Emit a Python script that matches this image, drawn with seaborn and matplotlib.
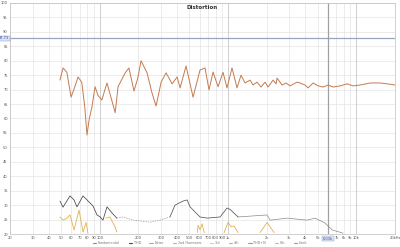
import numpy as np
import pandas as pd
import matplotlib
matplotlib.use("Agg")
import matplotlib.pyplot as plt
import seaborn as sns
from matplotlib.lines import Line2D

# ---------------- data ----------------
fund_freq = [49, 51.8, 55.5, 59.8, 63.5, 67.8, 72.5, 76.5, 79.6, 83, 87, 92, 97, 104, 109, 114,
             123, 132, 139, 158, 169, 185, 198, 210, 234, 255, 275, 301, 329, 367, 401, 423,
             471, 534, 605, 662, 711, 764, 836, 914, 982, 1074, 1175, 1262, 1358, 1486, 1566,
             1684, 1808, 1944, 2050, 2244, 2366, 2410, 2636, 2832, 3041, 3452, 3640, 3980,
             4207, 4600, 5035, 5508, 6025, 6590, 7465, 8470, 9424, 10700, 12800, 15300, 17400, 20000]
fund_db = [73.3, 77.5, 76.0, 67.4, 70.5, 74.4, 72.5, 64.0, 54.3, 60.0, 64.0, 71.0, 68.0, 66.4, 69.5, 72.3,
           67.0, 62.0, 71.0, 75.8, 77.5, 69.5, 74.0, 80.0, 75.8, 69.0, 64.3, 72.6, 75.8, 72.0, 74.4, 70.6,
           78.2, 67.4, 76.8, 77.5, 69.9, 76.1, 71.0, 76.0, 70.6, 77.5, 70.6, 75.0, 72.3, 73.3, 71.6,
           72.6, 70.9, 72.6, 70.9, 73.3, 72.0, 74.0, 71.6, 72.3, 71.3, 72.6, 72.3, 71.6,
           70.6, 72.3, 71.3, 70.9, 71.6, 70.9, 71.3, 72.0, 71.3, 71.6, 72.3, 72.3, 72.0, 71.6]

# THD: dark where clearly above noise, lighter where it merges with the noise floor
thd_freq = [49, 51.8, 58.7, 63.1, 66.5, 74.1, 79.6, 88.7, 95.3, 101, 106, 114, 124.7, 136]
thd_db = [31.4, 29.3, 33.2, 31.8, 29.4, 33.2, 31.8, 29.7, 26.6, 25.9, 24.8, 29.4, 27.3, 25.5]
thd2_freq = [353, 386, 446, 480, 506, 605, 689, 867, 982, 1038, 1197]
thd2_db = [25.9, 30.0, 31.4, 31.8, 29.4, 25.9, 25.5, 25.9, 29.0, 28.5, 25.9]
noise_freq = [136, 152, 182, 247, 295, 353]
noise_db = [25.5, 25.9, 24.8, 24.1, 24.8, 25.9]
noise2_freq = [1197, 2014, 2124, 2885, 4130, 4768, 5700, 6470, 7880]
noise2_db = [25.9, 26.6, 24.8, 25.5, 24.8, 25.5, 23.8, 21.4, 20.3]

h2_freq = [49, 51.8, 55.6, 58.7, 63.1, 69, 74.1, 78.3, 81,
           112, 120, 132, 136,
           577, 584, 605, 628, 652,
           931, 1000, 1056, 1115, 1197,
           1777, 1908, 2014, 2124, 2284]
h2_db = [25.9, 24.8, 25.5, 26.6, 21.4, 28.3, 20.7, 24.0, 20.3,
         25.5, 25.9, 22.4, 20.7,
         20.5, 23.0, 21.5, 23.5, 20.5,
         20.5, 24.0, 22.5, 22.8, 20.5,
         20.5, 22.5, 24.0, 22.5, 20.5]
h2_seg = [0] * 9 + [1] * 4 + [2] * 5 + [3] * 5 + [4] * 5

y_ticks = list(range(20, 101, 5))
x_ticks = [20, 30, 40, 50, 60, 70, 80, 90, 100, 200, 300, 400, 500, 600, 700, 800, 900,
           1000, 2000, 3000, 4000, 5000, 6000, 7000, 8000, 9000, 10000, 20000]
x_tick_labels = ["20", "30", "40", "50", "60", "70", "80", "90", "100", "200", "300", "400", "500",
                 "600", "700", "800", "900", "1k", "2k", "3k", "4k", "5k", "", "7k", "8k", "9k",
                 "10k", "20kHz"]
legend_labels = ["Fundamental", "THD", "Noise", "2nd Harmonic", "3rd", "4th", "THD+N", "5th", "Limit"]
legend_colors = ["#c47a50", "#444444", "#aaaaaa", "#e3b04b", "#e9cf7a", "#d9a96a", "#9a9a9a", "#bbbbbb", "#999999"]
cursor_db = 87.73
cursor_freq = 6025

# ---------------- plotting ----------------
sns.set_style("white")
plt.rcParams['font.family'] = ['DejaVu Sans']

fig = plt.figure(figsize=(4.0, 2.47), dpi=100)
ax = fig.add_axes([10 / 400, 1 - 234 / 247, 385 / 400, 231 / 247])

df_f = pd.DataFrame({"f": fund_freq, "db": fund_db})
df_t = pd.DataFrame({"f": thd_freq, "db": thd_db})
df_t2 = pd.DataFrame({"f": thd2_freq, "db": thd2_db})
df_n = pd.DataFrame({"f": noise_freq, "db": noise_db})
df_n2 = pd.DataFrame({"f": noise2_freq, "db": noise2_db})
df_h = pd.DataFrame({"f": h2_freq, "db": h2_db, "seg": h2_seg})

ax.set_xscale("log")
ax.set_xlim(20, 20000)
ax.set_ylim(20, 100)

# grid
for v in y_ticks:
    ax.axhline(v, color="#e4e4e4", lw=0.5, zorder=0)
for v in x_ticks:
    dec = v in (100, 1000, 10000)
    ax.axvline(v, color="#c8c8c8" if dec else "#e4e4e4", lw=0.6 if dec else 0.5, zorder=0)

sns.lineplot(data=df_h, x="f", y="db", units="seg", ax=ax, color="#e3b04b", lw=0.6,
             sort=False, estimator=None)
sns.lineplot(data=df_n, x="f", y="db", ax=ax, color="#9a9a9a", lw=0.5, ls=(0, (2, 1.5)),
             sort=False, estimator=None)
sns.lineplot(data=df_n2, x="f", y="db", ax=ax, color="#8a8a8a", lw=0.5,
             sort=False, estimator=None)
sns.lineplot(data=df_t, x="f", y="db", ax=ax, color="#444444", lw=0.55, sort=False, estimator=None)
sns.lineplot(data=df_t2, x="f", y="db", ax=ax, color="#555555", lw=0.55, sort=False, estimator=None)
sns.lineplot(data=df_f, x="f", y="db", ax=ax, color="#c47a50", lw=0.7, sort=False, estimator=None)

# cursors
ax.axhline(cursor_db, color="#9aa5c0", lw=0.9, zorder=1)
ax.axvline(cursor_freq, color="#a0a0a0", lw=0.9, zorder=1)

ax.set_xticks(x_ticks)
ax.set_xticklabels(x_tick_labels)
ax.set_yticks(y_ticks)
ax.set_yticklabels([str(v) for v in y_ticks])
ax.minorticks_off()
ax.tick_params(axis="both", length=0, labelsize=2.6, colors="#555555", pad=1.5)
ax.set_xlabel("")
ax.set_ylabel("")
for s in ax.spines.values():
    s.set_color("#bdbdbd")
    s.set_linewidth(0.5)

# cursor value boxes
ax.text(-0.002, cursor_db, f"{cursor_db:.2f}", transform=ax.get_yaxis_transform(),
        ha="right", va="center", fontsize=2.6, color="#3344aa",
        bbox=dict(boxstyle="square,pad=0.2", fc="#dde3f5", ec="#8f9bb8", lw=0.3))
ax.text(cursor_freq, -0.012, "6.03k", transform=ax.get_xaxis_transform(),
        ha="center", va="top", fontsize=2.6, color="#3344aa",
        bbox=dict(boxstyle="square,pad=0.2", fc="#dde3f5", ec="#8f9bb8", lw=0.3))

ax.text(0.5, 0.992, "Distortion", transform=ax.transAxes, ha="center", va="top",
        fontsize=4, fontweight="bold", color="#333333")

handles = [Line2D([0], [0], color=c, lw=0.8) for c in legend_colors]
fig.legend(handles, legend_labels, loc="lower center", bbox_to_anchor=(0.5, -0.005), ncol=9,
           fontsize=2.4, frameon=False, handlelength=1.0, columnspacing=2.6, handletextpad=0.5,
           labelcolor="#777777")

fig.savefig("out.png", dpi=100, facecolor="white")
